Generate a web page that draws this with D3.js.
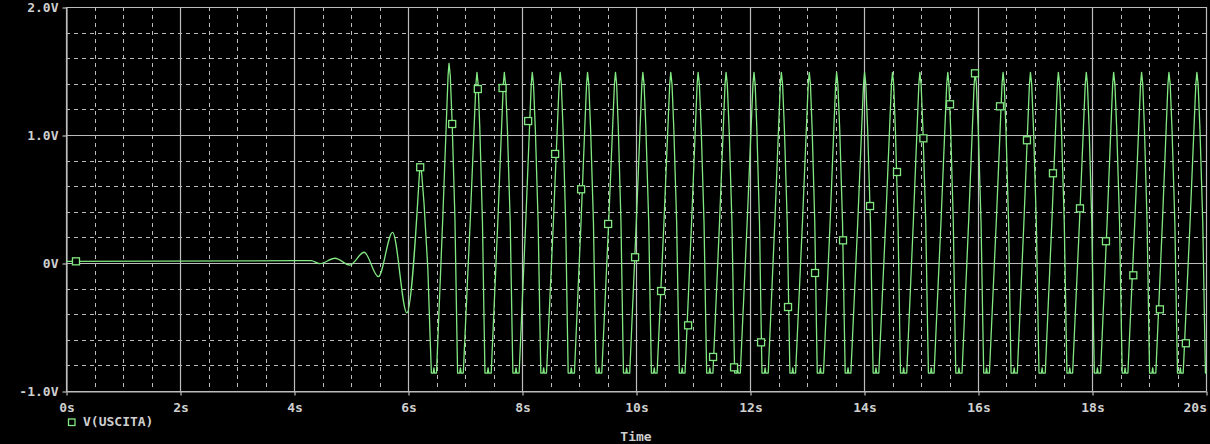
<!DOCTYPE html>
<html><head><meta charset="utf-8">
<script src="https://cdn.jsdelivr.net/npm/d3@7"></script>
<style>
html,body{margin:0;padding:0;background:#000;}
svg{display:block;}
text{font-family:"DejaVu Sans Mono",monospace;font-weight:bold;font-size:13px;fill:#cfcfcf;}
</style></head><body>
<svg id="chart" width="1210" height="444"></svg>
<script>
// ---- tick labels ----
const xTickValues = [0, 2, 4, 6, 8, 10, 12, 14, 16, 18, 20];
const xTickLabels = ["0s", "2s", "4s", "6s", "8s", "10s", "12s", "14s", "16s", "18s", "20s"];
const yTickValues = [2, 1, 0, -1];
const yTickLabels = ["2.0V", "1.0V", "0V", "-1.0V"];
const xAxisTitle = "Time";
const seriesName = "V(USCITA)";

// ---- start-up of the oscillation (s, V) ----
const startupT = [0, 4.08, 4.30, 4.45, 4.72, 4.98, 5.23, 5.48, 5.73, 5.98];
const startupV = [0.013, 0.018, 0.018, -0.005, 0.037, -0.016, 0.084, -0.107, 0.24, -0.39];

// ---- steady oscillation: peaks (s, V) ----
const peakT = [6.21, 6.72, 7.21, 7.69, 8.18, 8.67, 9.15, 9.64, 10.12, 10.61, 11.09, 11.58, 12.07, 12.55,
               13.04, 13.52, 14.01, 14.50, 14.98, 15.47, 15.95, 16.44, 16.92, 17.41, 17.90, 18.38, 18.87, 19.35, 19.84];
const peakV = [0.77, 1.56, 1.49, 1.49, 1.49, 1.49, 1.49, 1.49, 1.49, 1.49, 1.49, 1.49, 1.49, 1.49,
               1.49, 1.49, 1.49, 1.49, 1.49, 1.49, 1.49, 1.49, 1.49, 1.49, 1.49, 1.49, 1.49, 1.49, 1.49];
// clipped troughs after each peak: start / end of the flat bottom (s)
const troughStartT = [6.41, 6.87, 7.35, 7.84, 8.33, 8.81, 9.30, 9.78, 10.27, 10.76, 11.24, 11.73, 12.21, 12.70,
                      13.18, 13.67, 14.16, 14.64, 15.13, 15.61, 16.10, 16.58, 17.07, 17.56, 18.04, 18.53, 19.01, 19.50, 19.99];
const troughEndT = [6.50, 6.97, 7.46, 7.95, 8.43, 8.92, 9.40, 9.89, 10.37, 10.86, 11.35, 11.83, 12.32, 12.80,
                    13.29, 13.77, 14.26, 14.75, 15.23, 15.72, 16.20, 16.69, 17.18, 17.66, 18.15, 18.63, 19.12, 19.60, 20.09];
const troughV = -0.86;
const notchV = -0.82;
// edge shape read from one cycle (fractions of edge duration / of swing)
const fallTimeFrac = [0.145, 0.36, 0.69, 0.89];
const fallDropFrac = [0.04, 0.19, 0.50, 0.83];
const riseTimeFrac = [0.50, 0.806, 0.925];
const riseGainFrac = [0.50, 0.834, 0.962];

// ---- square markers on the trace (s, V) ----
const markerT = [0.175, 6.214, 6.775, 7.225, 7.659, 8.108, 8.581, 9.037, 9.511, 9.984, 10.440, 10.914, 11.352, 11.720,
                 12.194, 12.667, 13.141, 13.632, 14.106, 14.579, 15.042, 15.509, 15.947, 16.386, 16.859, 17.315,
                 17.789, 18.245, 18.725, 19.191, 19.647];
const markerV = [0.013, 0.748, 1.086, 1.359, 1.367, 1.109, 0.852, 0.576, 0.305, 0.045, -0.219, -0.487, -0.734, -0.815,
                 -0.620, -0.344, -0.078, 0.177, 0.445, 0.711, 0.974, 1.240, 1.482, 1.224, 0.959, 0.701,
                 0.427, 0.170, -0.096, -0.362, -0.627];

// ---- layout ----
const W = 1210, H = 444;
const L = 66, R = 1206, T = 7, B = 391;
const green = "#82e882";
const gridCol = "#bcbcbc";

const svg = d3.select("#chart");
svg.append("rect").attr("width", W).attr("height", H).attr("fill", "#000");

const x = d3.scaleLinear().domain([0, 20]).range([L, R]);
const y = d3.scaleLinear().domain([-1, 2]).range([B, T]);

// minor grid (dashed)
const xMinor = d3.range(0, 20.001, 0.5).filter(v => !xTickValues.includes(v));
const yMinor = d3.range(-1, 2.001, 0.2).map(v => +v.toFixed(2)).filter(v => !yTickValues.includes(v));
const g = svg.append("g");
g.selectAll(".vmin").data(xMinor).join("line")
  .attr("x1", d => Math.round(x(d)) + 0.5).attr("x2", d => Math.round(x(d)) + 0.5)
  .attr("y1", T).attr("y2", B)
  .attr("stroke", gridCol).attr("stroke-width", 1).attr("stroke-dasharray", "4,4");
g.selectAll(".hmin").data(yMinor).join("line")
  .attr("y1", d => Math.round(y(d)) + 0.5).attr("y2", d => Math.round(y(d)) + 0.5)
  .attr("x1", L).attr("x2", R)
  .attr("stroke", gridCol).attr("stroke-width", 1).attr("stroke-dasharray", "4,4");
// major grid (solid)
g.selectAll(".vmaj").data(xTickValues).join("line")
  .attr("x1", d => Math.round(x(d)) + 0.5).attr("x2", d => Math.round(x(d)) + 0.5)
  .attr("y1", T).attr("y2", B)
  .attr("stroke", gridCol).attr("stroke-width", 1.2);
g.selectAll(".hmaj").data(yTickValues).join("line")
  .attr("y1", d => Math.round(y(d)) + 0.5).attr("y2", d => Math.round(y(d)) + 0.5)
  .attr("x1", L).attr("x2", R + 0.5)
  .attr("stroke", gridCol).attr("stroke-width", 1.2);

// axes
const yAxis = d3.axisLeft(y).tickValues(yTickValues).tickFormat((d, i) => yTickLabels[i])
  .tickSize(4).tickSizeOuter(0).tickPadding(4);
const ya = svg.append("g").attr("transform", `translate(${L + 0.5},0.5)`).call(yAxis);
const xAxis = d3.axisBottom(x).tickValues(xTickValues).tickFormat((d, i) => xTickLabels[i])
  .tickSize(4).tickSizeOuter(0).tickPadding(7);
const xa = svg.append("g").attr("transform", `translate(0.5,${B + 0.5})`).call(xAxis);
[ya, xa].forEach(a => {
  a.select(".domain").attr("stroke", gridCol).attr("stroke-width", 1.2);
  a.selectAll(".tick line").attr("stroke", gridCol).attr("stroke-width", 1.2);
  a.selectAll("text").attr("fill", "#cfcfcf").style("font-family", "'DejaVu Sans Mono', monospace")
    .style("font-weight", "bold").style("font-size", "13px");
});
xa.selectAll(".tick text").filter(d => d === 20).attr("text-anchor", "end").attr("x", 0);

// clip
svg.append("clipPath").attr("id", "clip").append("rect")
  .attr("x", L).attr("y", 0).attr("width", R - L + 1).attr("height", H);

// trace
const startupPts = startupT.map((t, i) => [t, startupV[i]]).concat([[peakT[0], peakV[0]]]);
const mainPts = [];
peakT.forEach((t, i) => {
  const pv = peakV[i];
  if (i > 0) {
    // rising edge from previous trough end to this peak
    const e0 = troughEndT[i - 1];
    riseTimeFrac.forEach((f, k) => mainPts.push([e0 + f * (t - e0), troughV + riseGainFrac[k] * (pv - troughV)]));
  }
  mainPts.push([t, pv]);
  const s = troughStartT[i], e = troughEndT[i];
  fallTimeFrac.forEach((f, k) => mainPts.push([t + f * (s - t), pv - fallDropFrac[k] * (pv - troughV)]));
  mainPts.push([s, troughV]);
  mainPts.push([(s + e) / 2 - 0.012, troughV]);
  mainPts.push([(s + e) / 2, notchV]);
  mainPts.push([(s + e) / 2 + 0.012, troughV]);
  mainPts.push([e, troughV]);
});
const lineSmooth = d3.line().x(d => x(d[0])).y(d => y(d[1])).curve(d3.curveMonotoneX);
const lineSharp = d3.line().x(d => x(d[0])).y(d => y(d[1]));
const tr = svg.append("g").attr("clip-path", "url(#clip)");
tr.append("path").attr("d", lineSmooth(startupPts)).attr("fill", "none")
  .attr("stroke", green).attr("stroke-width", 1.3);
tr.append("path").attr("d", lineSharp(mainPts)).attr("fill", "none")
  .attr("stroke", green).attr("stroke-width", 1.3).attr("stroke-linejoin", "round");

// markers
tr.selectAll(".mk").data(markerT.map((t, i) => [t, markerV[i]])).join("rect")
  .attr("x", d => x(d[0]) - 3.5).attr("y", d => y(d[1]) - 3.5)
  .attr("width", 7).attr("height", 7)
  .attr("fill", "#000").attr("stroke", green).attr("stroke-width", 1.3);

// legend
svg.append("rect").attr("x", 68.5).attr("y", 419).attr("width", 6.5).attr("height", 6.5)
  .attr("fill", "none").attr("stroke", green).attr("stroke-width", 1.3);
svg.append("text").attr("x", 83).attr("y", 426).text(seriesName);

// x title
svg.append("text").attr("x", (L + R) / 2).attr("y", 441).attr("text-anchor", "middle").text(xAxisTitle);
</script>
</body></html>
